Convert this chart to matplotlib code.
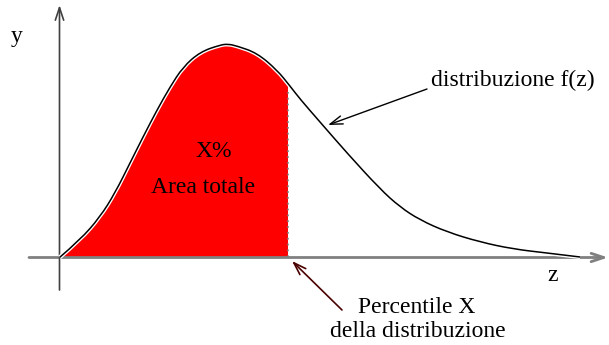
"""
Schematic of a skewed distribution f(z) with the area up to the X-th percentile shaded.
Writes out.png
"""
import matplotlib.pyplot as plt
import matplotlib.patheffects as pe
from matplotlib.patches import PathPatch, Rectangle
from matplotlib.path import Path

# --- curve (z, f(z)) ---
z_vals = [0.0, 0.41, 0.81, 1.11, 1.41, 1.67, 1.95, 2.21, 2.47, 2.81, 3.21, 3.37, 3.55,
          3.95, 4.35, 4.61, 4.81, 5.21, 5.75, 6.41, 6.81, 7.21, 7.75, 8.41, 9.07, 9.75, 10.41]
f_vals = [0.0, 0.175, 0.405, 0.645, 0.945, 1.205, 1.475, 1.705, 1.905, 2.055, 2.125, 2.135, 2.115,
          2.045, 1.875, 1.715, 1.585, 1.355, 1.045, 0.685, 0.505, 0.375, 0.255, 0.155, 0.085,
          0.045, 0.005]
percentile_z = 4.57

labels = {
    "y_axis": "y",
    "z_axis": "z",
    "curve": "distribuzione f(z)",
    "area_pct": "X%",
    "area": "Area totale",
    "perc_1": "Percentile X",
    "perc_2": "della distribuzione",
}

plt.rcParams["font.family"] = ["Liberation Serif", "DejaVu Serif"]
FS = 17


def smooth_path(xs, ys, close=False):
    # quadratic bezier through the midpoints, read points as control points
    pts = list(zip(xs, ys))
    verts = [pts[0]]
    codes = [Path.MOVETO]
    for i in range(1, len(pts) - 1):
        mid = ((pts[i][0] + pts[i + 1][0]) / 2, (pts[i][1] + pts[i + 1][1]) / 2)
        verts += [pts[i], mid]
        codes += [Path.CURVE3, Path.CURVE3]
    verts.append(pts[-1])
    codes.append(Path.LINETO)
    if close:
        verts += [(xs[-1], 0), (xs[0], 0), (xs[0], 0)]
        codes += [Path.LINETO, Path.LINETO, Path.CLOSEPOLY]
    return Path(verts, codes)


fig = plt.figure(figsize=(6.09, 3.45), dpi=100)
ax = fig.add_axes([0, 0, 1, 1])
ax.set_xlim(-1.19, 10.99)
ax.set_ylim(-0.875, 2.575)
ax.set_axis_off()

head = "->,head_length=0.9,head_width=0.3"

# axes with open arrow heads
ax.annotate("", xy=(10.97, 0), xytext=(-0.61, 0),
            arrowprops=dict(arrowstyle=head, color="#808080", lw=2, shrinkA=0, shrinkB=0))
ax.annotate("", xy=(0, 2.525), xytext=(0, -0.325),
            arrowprops=dict(arrowstyle=head, color="#404040", lw=1.2, shrinkA=0, shrinkB=0))

# shaded area up to the percentile
area = PathPatch(smooth_path(z_vals, f_vals, close=True), facecolor="#ff0000", lw=0, zorder=2)
ax.add_patch(area)
area.set_clip_path(Rectangle((0, 0), percentile_z, 3, transform=ax.transData))
ax.plot([percentile_z, percentile_z], [0.01, 1.7], color="#808080", lw=1.2,
        ls=(0, (1, 2.5)), zorder=3)

# the curve, with a thin white halo
curve = PathPatch(smooth_path(z_vals, f_vals), facecolor="none", edgecolor="black",
                  lw=1.1, zorder=4,
                  path_effects=[pe.Stroke(linewidth=3, foreground="white"), pe.Normal()])
ax.add_patch(curve)

# labels
ax.text(-0.85, 2.155, labels["y_axis"], fontsize=FS, ha="center", va="baseline")
ax.text(9.87, -0.235, labels["z_axis"], fontsize=FS, ha="center", va="baseline")
ax.text(3.09, 1.005, labels["area_pct"], fontsize=FS, ha="center", va="baseline", zorder=5)
ax.text(2.87, 0.645, labels["area"], fontsize=FS, ha="center", va="baseline", zorder=5)
ax.text(9.07, 1.715, labels["curve"], fontsize=FS, ha="center", va="baseline")
ax.text(7.15, -0.555, labels["perc_1"], fontsize=FS, ha="center", va="baseline")
ax.text(7.17, -0.795, labels["perc_2"], fontsize=FS, ha="center", va="baseline")

# pointer arrows
ax.annotate("", xy=(5.37, 1.325), xytext=(7.35, 1.685),
            arrowprops=dict(arrowstyle=head, color="black", lw=1, shrinkA=0, shrinkB=0))
ax.annotate("", xy=(4.65, -0.035), xytext=(5.65, -0.525),
            arrowprops=dict(arrowstyle=head, color="#4a0000", lw=1.2, shrinkA=0, shrinkB=0))

fig.savefig("out.png", dpi=100)
